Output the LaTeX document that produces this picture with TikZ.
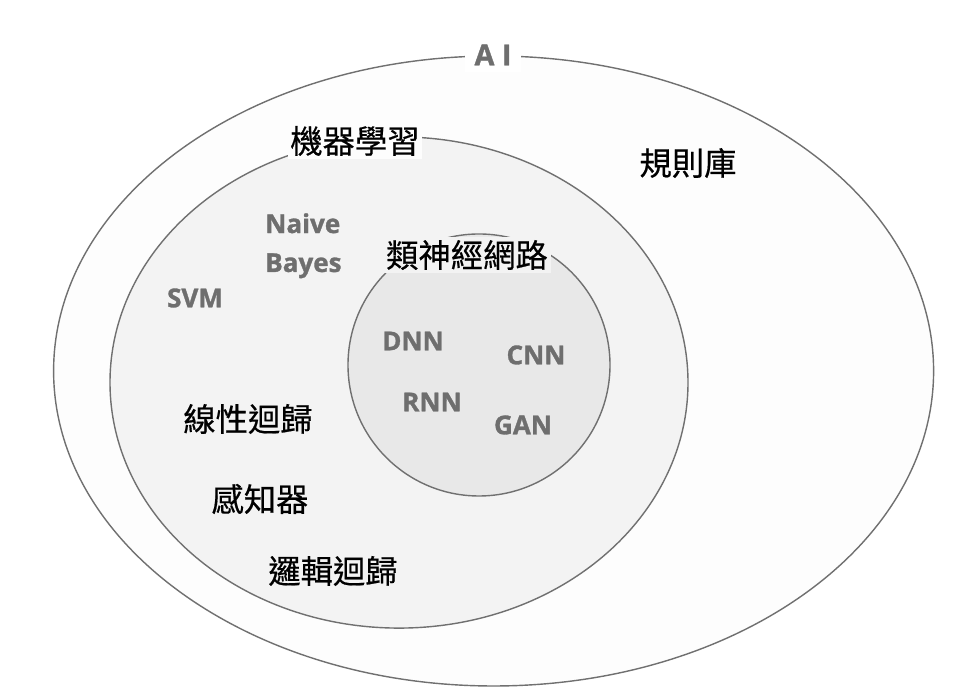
\documentclass[tikz,border=0pt]{standalone}
\usepackage{fontspec}
\setsansfont{Open Sans}[BoldFeatures={FakeBold=1.2}]
\newfontfamily\cjk{Noto Sans CJK TC}[FakeBold=0.5]

\definecolor{rim}{HTML}{707070}
\definecolor{aifill}{HTML}{FDFDFD}
\definecolor{mlfill}{HTML}{F3F3F3}
\definecolor{nnfill}{HTML}{E8E8E8}
\definecolor{algogray}{HTML}{6E6E6E}

\tikzset{
  zone/.style={draw=rim, line width=1pt},
  term/.style={font=\cjk\fontsize{23}{23}\selectfont, text=black, inner sep=2pt},
  algo/.style={font=\sffamily\bfseries\fontsize{18.5}{27.7}\selectfont, text=algogray, inner sep=0pt},
}

\begin{document}
\begin{tikzpicture}
    \useasboundingbox[fill=white] (0,0) rectangle (23.95,17.475);

    % Bereiche
    \draw[zone, fill=aifill] (12.34,8.2) ellipse (11 and 7.875);
    \draw[zone, fill=mlfill] (9.975,7.9125) ellipse (7.225 and 6.14);
    \draw[zone, fill=nnfill] (11.975,8.35) circle (3.275);

    % Titel der Bereiche
    \node[algo, font=\sffamily\bfseries\fontsize{20.5}{24}\selectfont, fill=white,
          inner xsep=7pt, inner ysep=5pt] (ai) at (12.325,16.1) {A I};
    \node[term, fill=aifill] (ml) at (8.875,13.95) {機器學習};
    \node[term, fill=mlfill] (nn) at (11.675,11.1) {類神經網路};

    % Methoden
    \foreach \x/\y/\name/\val in {
        17.2/13.4/rules/規則庫,
        6.2/7.0/linreg/線性迴歸,
        6.5/5.0/perc/感知器,
        8.325/3.2/logreg/邏輯迴歸
        } {
        \node[term] (\name) at (\x,\y) {\val};
    }
    \foreach \x/\y/\name/\val in {
        4.875/10.025/svm/SVM,
        10.325/8.95/dnn/DNN,
        13.4/8.6/cnn/CNN,
        10.8/7.425/rnn/RNN,
        13.075/6.85/gan/GAN
        } {
        \node[algo] (\name) at (\x,\y) {\val};
    }
    \node[algo, align=left, anchor=north west] (bayes) at (6.625,12.15) {Naive\\Bayes};
\end{tikzpicture}
\end{document}
